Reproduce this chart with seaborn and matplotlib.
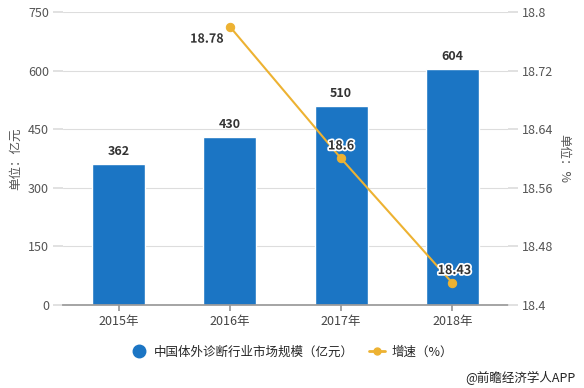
import matplotlib
matplotlib.use("Agg")
import matplotlib.pyplot as plt
import matplotlib.patheffects as pe
from matplotlib.lines import Line2D
import seaborn as sns
import pandas as pd

years = ["2015年", "2016年", "2017年", "2018年"]
market_size = [362, 430, 510, 604]
growth_years = ["2016年", "2017年", "2018年"]
growth = [18.78, 18.6, 18.43]

bar_color = "#1B75C4"
line_color = "#EDB232"

sns.set_theme(style="white")
plt.rcParams["font.family"] = ["Noto Sans CJK SC", "DejaVu Sans"]

df = pd.DataFrame({"year": years, "size": market_size})

fig = plt.figure(figsize=(5.84, 3.88), dpi=100)
ax = fig.add_axes([63 / 584, 1 - 305 / 388, 445 / 584, 293 / 388])
sns.barplot(data=df, x="year", y="size", color=bar_color, saturation=1, width=0.476, ax=ax)
ax.set_xlim(-0.5, 3.5)
ax.set_ylim(0, 750)
ax.set_yticks([0, 150, 300, 450, 600, 750])
ax.yaxis.grid(True, color="#dddddd", linewidth=0.8)
ax.set_axisbelow(True)
for s in ["top", "right", "left"]:
    ax.spines[s].set_visible(False)
ax.spines["bottom"].set_color("#999999")
ax.tick_params(axis="y", length=7, color="#dddddd", labelsize=9, labelcolor="#555555", pad=3)
ax.tick_params(axis="x", length=4, color="#999999", labelsize=9, labelcolor="#444444", bottom=True)
ax.set_xlabel("")
ax.set_ylabel("单位：亿元", fontsize=9, color="#555555", labelpad=4)
ax.bar_label(ax.containers[0], fontsize=9, fontweight="bold", color="#333333", padding=4)

ax2 = ax.twinx()
gx = [years.index(y) for y in growth_years]
sns.lineplot(x=gx, y=growth, color=line_color, linewidth=1.5, marker="o", markersize=6,
             markeredgecolor=line_color, ax=ax2)
ax2.set_ylim(18.4, 18.8)
ax2.set_yticks([18.4, 18.48, 18.56, 18.64, 18.72, 18.8])
ax2.set_yticklabels(["18.4", "18.48", "18.56", "18.64", "18.72", "18.8"])
for s in ["top", "right", "left", "bottom"]:
    ax2.spines[s].set_visible(False)
ax2.tick_params(axis="y", length=7, color="#dddddd", labelsize=9, labelcolor="#555555", pad=3, right=True)
ax2.set_ylabel("单位：%", fontsize=9, color="#555555", rotation=270, labelpad=12)

offsets = [(-16.5, -9), (0, 9), (1.5, 9)]
for x, v, off in zip(gx, growth, offsets):
    ax2.annotate(f"{v:g}", (x, v), xytext=off, textcoords="offset points",
                 ha="center", va="center", fontsize=9, fontweight="bold", color="#333333",
                 path_effects=[pe.withStroke(linewidth=2.5, foreground="white")])

handles = [
    Line2D([], [], linestyle="none", marker="o", markersize=9, color=bar_color),
    Line2D([], [], color=line_color, linewidth=2, marker="o", markersize=5),
]
fig.legend(handles, ["中国体外诊断行业市场规模（亿元）", "增速（%）"], loc="center",
           bbox_to_anchor=(0.5, 1 - 352 / 388), ncol=2, frameon=False, fontsize=9,
           handlelength=1.3, columnspacing=1.2, handletextpad=0.5)

fig.text(575 / 584, 1 - 378 / 388, "@前瞻经济学人APP", ha="right", va="center", fontsize=9, color="#222222")

fig.savefig("out.png", dpi=100)
